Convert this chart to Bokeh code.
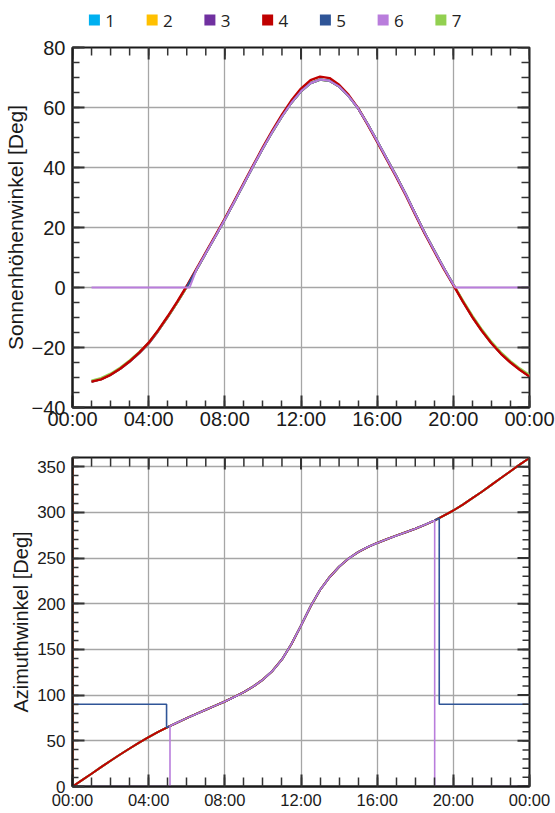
import math
from bokeh.plotting import figure
from bokeh.layouts import column
from bokeh.models import FixedTicker, Range1d
from bokeh.core.properties import value
from bokeh.embed import file_html
from bokeh.resources import INLINE

# ---------------- data ----------------
SERIES = ["1", "2", "3", "4", "5", "6", "7"]
COLORS = ["#00b0f0", "#ffc000", "#7030a0", "#c00000", "#2f5597", "#b97ddc", "#92d050"]

TIME_RANGE = (0, 24)
ELEV_RANGE = (-40, 80)
AZ_RANGE = (0, 360)
TIME_TICKS = [0, 4, 8, 12, 16, 20, 24]
TIME_LABELS = ["00:00", "04:00", "08:00", "12:00", "16:00", "20:00", "00:00"]
TIME_MINOR = list(range(0, 25))
ELEV_TICKS = [-40, -20, 0, 20, 40, 60, 80]
ELEV_MINOR = list(range(-40, 81, 5))
AZ_TICKS = [0, 50, 100, 150, 200, 250, 300, 350]
AZ_MINOR = list(range(0, 361, 10))

# elevation (top chart), hours 01:00 .. 24:00
HOURS_TOP = [1.0, 1.5, 2.0, 2.5, 3.0, 3.5, 4.0, 4.5, 5.0, 5.5, 6.0, 6.5, 7.0, 7.5, 8.0, 8.5,
             9.0, 9.5, 10.0, 10.5, 11.0, 11.5, 12.0, 12.5, 13.0, 13.5, 14.0, 14.5, 15.0, 15.5,
             16.0, 16.5, 17.0, 17.5, 18.0, 18.5, 19.0, 19.5, 20.0, 20.5, 21.0, 21.5, 22.0, 22.5,
             23.0, 23.5, 24.0]
ELEV_BASE = [-31.4, -30.6, -29.1, -27.1, -24.7, -21.9, -18.7, -14.5, -9.9, -5.0, 0.2, 5.8,
             11.4, 17.0, 22.7, 28.6, 34.6, 40.6, 46.4, 51.9, 57.0, 61.6, 65.4, 68.1, 69.3, 68.9,
             67.0, 63.8, 59.7, 54.5, 48.8, 43.0, 37.2, 31.1, 24.6, 18.2, 12.3, 6.5, 1.0, -4.6,
             -9.8, -14.4, -18.5, -22.0, -24.9, -27.4, -29.6]
ELEV_S4 = [-31.4, -30.6, -29.1, -27.1, -24.6, -21.7, -18.4, -14.2, -9.6, -4.7, 0.5, 6.1,
           11.7, 17.3, 23.0, 28.9, 34.9, 40.9, 46.8, 52.4, 57.6, 62.4, 66.3, 69.1, 70.3, 69.8,
           67.6, 64.2, 59.8, 54.3, 48.5, 42.7, 36.9, 30.8, 24.3, 17.9, 12.0, 6.2, 0.8, -4.7,
           -9.9, -14.5, -18.6, -22.1, -25.0, -27.5, -29.7]
ELEV_S7 = [-31.0, -30.2, -28.7, -26.7, -24.3, -21.5, -18.4, -14.3, -9.8, -5.0, 0.2, 5.8,
           11.4, 17.0, 22.7, 28.6, 34.6, 40.6, 46.4, 51.9, 57.0, 61.6, 65.4, 68.1, 69.3, 68.9,
           67.0, 63.8, 59.7, 54.5, 48.8, 43.0, 37.2, 31.1, 24.6, 18.2, 12.3, 6.5, 1.1, -4.3,
           -9.4, -14.0, -18.1, -21.6, -24.5, -27.0, -29.2]
# series 5: only while the sun is above the horizon
HOURS_S5_TOP = [6.0, 6.5, 7.0, 7.5, 8.0, 8.5, 9.0, 9.5, 10.0, 10.5, 11.0, 11.5, 12.0, 12.5,
                13.0, 13.5, 14.0, 14.5, 15.0, 15.5, 16.0, 16.5, 17.0, 17.5, 18.0, 18.5, 19.0,
                19.5, 20.0]
ELEV_S5 = [0.2, 5.8, 11.4, 17.0, 22.7, 28.6, 34.6, 40.6, 46.4, 51.9, 57.0, 61.6, 65.4, 68.1,
           69.3, 68.9, 67.0, 63.8, 59.7, 54.5, 48.8, 43.0, 37.2, 31.1, 24.6, 18.2, 12.3, 6.5, 1.0]
# series 6: zero while the sun is below the horizon
HOURS_S6_TOP = [1.0, 6.15, 6.5, 7.0, 7.5, 8.0, 8.5, 9.0, 9.5, 10.0, 10.5, 11.0, 11.5, 12.0,
                12.5, 13.0, 13.5, 14.0, 14.5, 15.0, 15.5, 16.0, 16.5, 17.0, 17.5, 18.0, 18.5,
                19.0, 19.5, 20.0, 20.1, 24.0]
ELEV_S6 = [0.0, 0.0, 5.8, 11.4, 17.0, 22.7, 28.6, 34.6, 40.6, 46.4, 51.9, 57.0, 61.6, 65.4,
           68.1, 69.3, 68.9, 67.0, 63.8, 59.7, 54.5, 48.8, 43.0, 37.2, 31.1, 24.6, 18.2, 12.3,
           6.5, 1.0, 0.0, 0.0]

# azimuth (bottom chart), hours 00:00 .. 24:00
HOURS_AZ = [0.0, 0.0, 0.5, 1.0, 1.5, 2.0, 2.5, 3.0, 3.5, 4.0, 4.5, 5.0, 5.5, 6.0, 6.5, 7.0, 7.5,
            8.0, 8.5, 9.0, 9.5, 10.0, 10.5, 11.0, 11.5, 12.0, 12.5, 13.0, 13.5, 14.0, 14.5,
            15.0, 15.5, 16.0, 16.5, 17.0, 17.5, 18.0, 18.5, 19.0, 19.5, 20.0, 20.5, 21.0, 21.5,
            22.0, 22.5, 23.0, 23.5, 24.0]
AZ_BASE = [360.0, 0.0, 7.0, 14.0, 21.2, 28.2, 35.0, 41.6, 48.0, 54.0, 59.7, 65.0, 70.0, 74.8,
           79.4, 84.0, 88.5, 93.0, 98.0, 103.3, 109.5, 117.0, 126.5, 139.0, 156.0, 176.0,
           197.0, 215.0, 229.0, 240.5, 249.5, 256.5, 262.0, 266.5, 270.5, 274.5, 278.2, 282.0,
           286.3, 291.0, 296.4, 302.0, 308.5, 315.5, 322.5, 330.0, 337.5, 345.0, 352.5, 359.5]
# series 5: 90 deg while the sun is below the horizon
HOURS_S5_AZ = [0.0, 4.94, 4.94, 5.0, 5.5, 6.0, 6.5, 7.0, 7.5, 8.0, 8.5, 9.0, 9.5, 10.0, 10.5,
               11.0, 11.5, 12.0, 12.5, 13.0, 13.5, 14.0, 14.5, 15.0, 15.5, 16.0, 16.5, 17.0,
               17.5, 18.0, 18.5, 19.0, 19.26, 19.26, 24.0]
AZ_S5 = [90.0, 90.0, 64.4, 65.0, 70.0, 74.8, 79.4, 84.0, 88.5, 93.0, 98.0, 103.3, 109.5, 117.0,
         126.5, 139.0, 156.0, 176.0, 197.0, 215.0, 229.0, 240.5, 249.5, 256.5, 262.0, 266.5,
         270.5, 274.5, 278.2, 282.0, 286.3, 291.0, 293.8, 90.0, 90.0]
# series 6: 0 deg while the sun is below the horizon
HOURS_S6_AZ = [0.0, 5.12, 5.12, 5.5, 6.0, 6.5, 7.0, 7.5, 8.0, 8.5, 9.0, 9.5, 10.0, 10.5, 11.0,
               11.5, 12.0, 12.5, 13.0, 13.5, 14.0, 14.5, 15.0, 15.5, 16.0, 16.5, 17.0, 17.5,
               18.0, 18.5, 19.0, 19.02, 19.02, 24.0]
AZ_S6 = [0.0, 0.0, 66.2, 70.0, 74.8, 79.4, 84.0, 88.5, 93.0, 98.0, 103.3, 109.5, 117.0, 126.5,
         139.0, 156.0, 176.0, 197.0, 215.0, 229.0, 240.5, 249.5, 256.5, 262.0, 266.5, 270.5,
         274.5, 278.2, 282.0, 286.3, 291.0, 291.2, 0.0, 0.0]

FONT = "Liberation Sans"
AXIS_COLOR = "#1a1a1a"
TICK_COLOR = "#333333"
GRID_COLOR = "#a6a6a6"

# common frame borders (the column aligns the frames of its plots)
BORDER_L, BORDER_R, PAGE_W = 70, 26, 555
# legend strip layout, in page pixels
LEG_H = 34
LEG_X0, LEG_PITCH, LEG_Y = 92, 58, 19.5


def style_axis(ax, ticker, minor_in, label_size, standoff):
    ax.ticker = ticker
    ax.axis_line_width = 2
    ax.axis_line_color = AXIS_COLOR
    ax.major_tick_in = 12
    ax.major_tick_out = 0
    ax.minor_tick_in = minor_in
    ax.minor_tick_out = 0
    ax.major_tick_line_color = TICK_COLOR
    ax.minor_tick_line_color = TICK_COLOR
    ax.major_tick_line_width = 2
    ax.minor_tick_line_width = 1.5
    ax.major_label_text_font = FONT
    ax.major_label_text_color = "#1a1a1a"
    ax.major_label_text_font_size = label_size
    ax.major_label_standoff = standoff
    ax.axis_label_text_font = FONT
    ax.axis_label_text_font_style = "normal"
    ax.axis_label_text_color = "#1a1a1a"


def mirror_ticks(p, xticks, xminor, yticks, yminor, xr, yr, top_minor, right_minor):
    """inward tick marks on the top and right frame edges (half of each dash is clipped)"""
    p.scatter(xticks, [yr[1]] * len(xticks), marker="dash", angle=math.pi / 2, size=24,
              line_color=TICK_COLOR, line_width=2)
    p.scatter(xminor, [yr[1]] * len(xminor), marker="dash", angle=math.pi / 2,
              size=2 * top_minor, line_color=TICK_COLOR, line_width=1.5)
    p.scatter([xr[1]] * len(yticks), yticks, marker="dash", size=24,
              line_color=TICK_COLOR, line_width=2)
    p.scatter([xr[1]] * len(yminor), yminor, marker="dash", size=2 * right_minor,
              line_color=TICK_COLOR, line_width=1.5)


time_overrides = {t: lab for t, lab in zip(TIME_TICKS, TIME_LABELS)}

# ---------------- legend strip ----------------
leg = figure(width=PAGE_W, height=LEG_H,
             x_range=Range1d(BORDER_L, PAGE_W - BORDER_R), y_range=Range1d(LEG_H, 0),
             x_axis_type=None, y_axis_type=None, output_backend="svg",
             toolbar_location=None, min_border_left=BORDER_L, min_border_right=BORDER_R,
             min_border_top=0, min_border_bottom=0)
leg.outline_line_color = None
leg_x = [LEG_X0 + i * LEG_PITCH for i in range(len(SERIES))]
leg.scatter(leg_x, [LEG_Y] * len(SERIES), marker="square", size=11, fill_color=COLORS,
            line_color=None)
leg.text([x + 11 for x in leg_x], [LEG_Y + 0.5] * len(SERIES), text=SERIES,
         text_font=value("Open Sans"), text_font_size="17px", text_color="#222222",
         text_baseline="middle", text_align="left")

# ---------------- top chart: elevation ----------------
p1 = figure(width=PAGE_W, height=403, x_range=Range1d(*TIME_RANGE), y_range=Range1d(*ELEV_RANGE),
            output_backend="svg", toolbar_location=None,
            min_border_left=BORDER_L, min_border_right=BORDER_R, min_border_top=13,
            min_border_bottom=30)
p1.outline_line_color = AXIS_COLOR
p1.outline_line_width = 2

style_axis(p1.xaxis[0], FixedTicker(ticks=TIME_TICKS, minor_ticks=TIME_MINOR), 7, "20px", 0)
p1.xaxis[0].major_label_overrides = time_overrides
style_axis(p1.yaxis[0], FixedTicker(ticks=ELEV_TICKS, minor_ticks=ELEV_MINOR), 7, "20px", 7)
p1.yaxis[0].axis_label = "Sonnenhöhenwinkel [Deg]"
p1.yaxis[0].axis_label_text_font_size = "21px"
p1.yaxis[0].axis_label_standoff = 2
p1.xgrid.grid_line_color = GRID_COLOR
p1.ygrid.grid_line_color = GRID_COLOR
p1.xgrid.grid_line_width = 1.3
p1.ygrid.grid_line_width = 1.3

LJ = "round"
p1.line(HOURS_TOP, ELEV_BASE, color=COLORS[0], line_width=2.2, line_join=LJ)
p1.line(HOURS_TOP, ELEV_BASE, color=COLORS[1], line_width=2.2, line_join=LJ)
p1.line(HOURS_TOP, ELEV_BASE, color=COLORS[2], line_width=2.2, line_join=LJ)
p1.line(HOURS_TOP, ELEV_S7, color=COLORS[6], line_width=2.2, line_join=LJ)
p1.line(HOURS_TOP, ELEV_S4, color=COLORS[3], line_width=2.4, line_join=LJ)
p1.line(HOURS_S5_TOP, ELEV_S5, color=COLORS[4], line_width=2, line_join=LJ)
p1.line(HOURS_S6_TOP, ELEV_S6, color=COLORS[5], line_width=2, line_join=LJ)
mirror_ticks(p1, TIME_TICKS, TIME_MINOR, ELEV_TICKS, ELEV_MINOR, TIME_RANGE, ELEV_RANGE, 8, 8)

# ---------------- bottom chart: azimuth ----------------
p2 = figure(width=PAGE_W, height=376, x_range=Range1d(*TIME_RANGE), y_range=Range1d(*AZ_RANGE),
            output_backend="svg", toolbar_location=None,
            min_border_left=BORDER_L, min_border_right=BORDER_R, min_border_top=20,
            min_border_bottom=27)
p2.outline_line_color = AXIS_COLOR
p2.outline_line_width = 2

style_axis(p2.xaxis[0], FixedTicker(ticks=TIME_TICKS, minor_ticks=TIME_MINOR), 9, "16.5px", 4)
p2.xaxis[0].major_label_overrides = time_overrides
style_axis(p2.yaxis[0], FixedTicker(ticks=AZ_TICKS, minor_ticks=AZ_MINOR), 6, "17px", 7)
p2.yaxis[0].axis_label = "Azimuthwinkel [Deg]"
p2.yaxis[0].axis_label_text_font_size = "20px"
p2.yaxis[0].axis_label_standoff = 2
p2.xgrid.grid_line_color = GRID_COLOR
p2.ygrid.grid_line_color = GRID_COLOR
p2.xgrid.grid_line_width = 1.3
p2.ygrid.grid_line_width = 1.3

p2.line(HOURS_AZ, AZ_BASE, color=COLORS[0], line_width=2, line_join=LJ)
p2.line(HOURS_AZ, AZ_BASE, color=COLORS[1], line_width=2, line_join=LJ)
p2.line(HOURS_AZ, AZ_BASE, color=COLORS[2], line_width=2, line_join=LJ)
p2.line(HOURS_AZ, AZ_BASE, color=COLORS[6], line_width=2, line_join=LJ)
p2.line(HOURS_AZ, AZ_BASE, color=COLORS[3], line_width=2, line_join=LJ)
p2.line(HOURS_S5_AZ, AZ_S5, color=COLORS[4], line_width=1.6)
p2.line(HOURS_S6_AZ, AZ_S6, color=COLORS[5], line_width=1.6)
mirror_ticks(p2, TIME_TICKS, TIME_MINOR, AZ_TICKS, AZ_MINOR, TIME_RANGE, AZ_RANGE, 9, 7)

layout = column(leg, p1, p2, spacing=0)
open("out.html", "w").write(file_html(layout, INLINE))
